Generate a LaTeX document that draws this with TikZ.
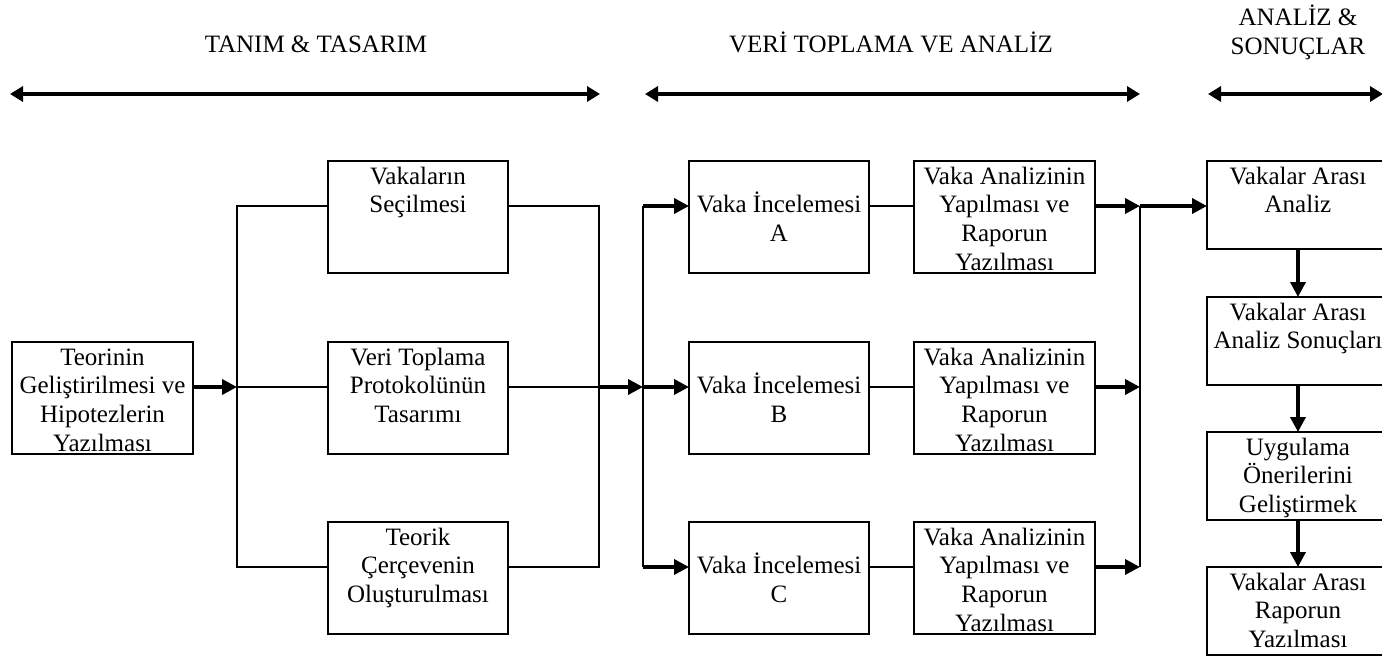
\documentclass[tikz,border=0pt]{standalone}
\usepackage{fontspec}
\setmainfont{Liberation Serif}
\usetikzlibrary{arrows.meta}
% box contents: fixed-size paragraph, text hung from the top edge
\newcommand\boxlines[3]{\parbox[c][#1][t]{#2}{\centering\rule{0pt}{23pt}#3}}

\begin{document}
\begin{tikzpicture}[x=1pt,y=-1pt,
  font=\fontsize{25pt}{28.7pt}\selectfont,
  box/.style={draw, line width=2pt, inner sep=0pt, outer sep=0pt},
  link/.style={line width=2pt},
  flow/.style={line width=3.6pt, -{Triangle[length=15pt,width=15pt]}},
  span/.style={line width=3.2pt, {Triangle[length=13pt,width=15pt]}-{Triangle[length=13pt,width=15pt]}},
  head/.style={anchor=base, inner sep=0pt}]
\useasboundingbox (0,0) rectangle (1382,658);
\clip (0,0) rectangle (1382,658);

% phase headings
\node[head] (h1) at (316,53) {TANIM \& TASARIM};
\node[head] (h2) at (891,53) {VERİ TOPLAMA VE ANALİZ};
\node[head] (h3) at (1298,26) {\parbox[t]{200pt}{\centering ANALİZ \&\\SONUÇLAR}};

\coordinate (s1a) at (10,94);   \coordinate (s1b) at (600,94);
\coordinate (s2a) at (645,94);  \coordinate (s2b) at (1140,94);
\coordinate (s3a) at (1208,94); \coordinate (s3b) at (1383,94);
\draw[span] (s1a) -- (s1b);
\draw[span] (s2a) -- (s2b);
\draw[span] (s3a) -- (s3b);

% rows and bus lines
\coordinate (rA) at (0,206);
\coordinate (rB) at (0,387);
\coordinate (rC) at (0,567);
\coordinate (j1) at (237,0);
\coordinate (j2) at (599,0);
\coordinate (j3) at (643,0);
\coordinate (j4) at (1140,0);

% design stage
\node[box] (teo) at (102.5,398) {\boxlines{112pt}{181pt}{Teorinin\\Geliştirilmesi ve\\Hipotezlerin\\Yazılması}};
\node[box] (sec) at (418,217) {\boxlines{112pt}{180pt}{Vakaların\\Seçilmesi}};
\node[box] (pro) at (418,398) {\boxlines{112pt}{180pt}{Veri Toplama\\Protokolünün\\Tasarımı}};
\node[box] (cer) at (418,578) {\boxlines{112pt}{180pt}{Teorik\\Çerçevenin\\Oluşturulması}};

% case studies
\node[box] (inA) at (779,217) {\boxlines{112pt}{180pt}{\\Vaka İncelemesi\\A}};
\node[box] (inB) at (779,398) {\boxlines{112pt}{180pt}{\\Vaka İncelemesi\\B}};
\node[box] (inC) at (779,578) {\boxlines{112pt}{180pt}{\\Vaka İncelemesi\\C}};
\node[box] (anA) at (1004.5,217) {\boxlines{112pt}{181pt}{Vaka Analizinin\\Yapılması ve\\Raporun\\Yazılması}};
\node[box] (anB) at (1004.5,398) {\boxlines{112pt}{181pt}{Vaka Analizinin\\Yapılması ve\\Raporun\\Yazılması}};
\node[box] (anC) at (1004.5,578) {\boxlines{112pt}{181pt}{Vaka Analizinin\\Yapılması ve\\Raporun\\Yazılması}};

% cross-case stage
\node[box] (ca) at (1298,205) {\boxlines{88pt}{182pt}{Vakalar Arası\\Analiz}};
\node[box] (cs) at (1298,341) {\boxlines{88pt}{182pt}{Vakalar Arası\\Analiz Sonuçları}};
\node[box] (ug) at (1298,476) {\boxlines{88pt}{182pt}{Uygulama\\Önerilerini\\Geliştirmek}};
\node[box] (cr) at (1298,611) {\boxlines{88pt}{182pt}{Vakalar Arası\\Raporun\\Yazılması}};

% connectors
\draw[flow] (teo.east |- rB) -- (j1 |- rB);
\draw[link] (sec.west |- rA) -| (j1 |- rC) -- (cer.west |- rC);
\draw[link] (j1 |- rB) -- (pro.west |- rB);
\draw[link] (sec.east |- rA) -| (j2 |- rC) -- (cer.east |- rC);
\draw[link] (pro.east |- rB) -- (j2 |- rB);
\draw[flow] (j2 |- rB) -- (j3 |- rB);
\draw[link] (j3 |- rA) -- (j3 |- rC);
\foreach \rw/\ia/\ib in {rA/inA/anA, rB/inB/anB, rC/inC/anC} {
  \draw[flow] (j3 |- \rw) -- (\ia.west |- \rw);
  \draw[link] (\ia.east |- \rw) -- (\ib.west |- \rw);
  \draw[flow] (\ib.east |- \rw) -- (j4 |- \rw);
}
\draw[link] (j4 |- rA) -- (j4 |- rC);
\draw[flow] (j4 |- rA) -- (ca.west |- rA);
\draw[flow] (ca.south) -- (cs.north);
\draw[flow] (cs.south) -- (ug.north);
\draw[flow] (ug.south) -- (cr.north);
\end{tikzpicture}
\end{document}
